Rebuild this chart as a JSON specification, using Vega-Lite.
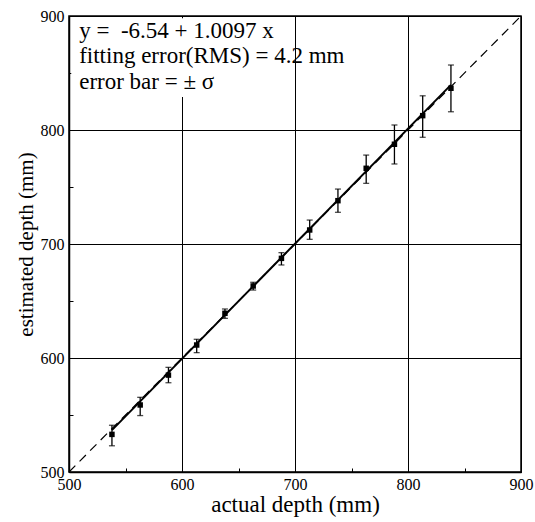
{
  "$schema": "https://vega.github.io/schema/vega-lite/v6.json",
  "width": 452,
  "height": 456,
  "autosize": {"type": "none"},
  "padding": {"left": 69, "top": 16, "right": 14, "bottom": 50},
  "background": "white",
  "config": {
    "font": "Liberation Serif",
    "view": {"stroke": "black", "strokeWidth": 1.5},
    "axis": {
      "labelFont": "Liberation Serif",
      "titleFont": "Liberation Serif",
      "labelFontSize": 16,
      "titleFontSize": 21,
      "titleFontWeight": "normal",
      "labelColor": "black",
      "titleColor": "black",
      "domainColor": "black",
      "domainWidth": 1.5,
      "tickColor": "black",
      "gridColor": "black",
      "gridWidth": 1,
      "labelFlush": false,
      "labelOverlap": false
    }
  },
  "datasets": {
    "points": [
      {"actual": 538, "estimated": 533.0, "low": 523.0, "high": 541.0},
      {"actual": 563, "estimated": 558.8, "low": 549.5, "high": 565.5},
      {"actual": 588, "estimated": 585.0, "low": 578.3, "high": 591.8},
      {"actual": 613, "estimated": 611.4, "low": 604.7, "high": 616.4},
      {"actual": 638, "estimated": 639.2, "low": 634.8, "high": 643.0},
      {"actual": 663, "estimated": 663.2, "low": 659.6, "high": 666.4},
      {"actual": 688, "estimated": 687.4, "low": 681.6, "high": 692.4},
      {"actual": 713, "estimated": 712.3, "low": 704.1, "high": 721.0},
      {"actual": 738, "estimated": 738.0, "low": 727.8, "high": 748.2},
      {"actual": 763, "estimated": 766.4, "low": 753.2, "high": 778.0},
      {"actual": 788, "estimated": 787.5, "low": 770.2, "high": 804.4},
      {"actual": 813, "estimated": 812.6, "low": 793.6, "high": 830.0},
      {"actual": 838, "estimated": 836.6, "low": 816.0, "high": 857.0}
    ],
    "lines": [
      {"series": "identity", "actual": 500, "estimated": 500},
      {"series": "identity", "actual": 900, "estimated": 900},
      {"series": "fit", "actual": 538, "estimated": 536.7},
      {"series": "fit", "actual": 838, "estimated": 839.6}
    ],
    "box": [
      {"x1": 502, "x2": 666, "y1": 829, "y2": 898}
    ],
    "notes": [
      {"actual": 509, "estimated": 880.5, "text": "y = \u00a0-6.54 + 1.0097 x"},
      {"actual": 509, "estimated": 858.5, "text": "fitting error(RMS) = 4.2 mm"},
      {"actual": 509, "estimated": 836, "text": "error bar = ± σ"}
    ]
  },
  "encoding": {
    "x": {
      "field": "actual",
      "type": "quantitative",
      "scale": {"domain": [500, 900], "nice": false, "zero": false},
      "axis": {
        "title": "actual depth (mm)",
        "titleFontSize": 23,
        "values": [500, 550, 600, 650, 700, 750, 800, 850, 900],
        "labelExpr": "datum.value % 100 === 0 ? datum.label : ''",
        "gridOpacity": {"condition": {"test": "datum.value % 100 === 0", "value": 1}, "value": 0},
        "tickSize": -4,
        "labelPadding": 8,
        "titlePadding": 1
      }
    },
    "y": {
      "field": "estimated",
      "type": "quantitative",
      "scale": {"domain": [500, 900], "nice": false, "zero": false},
      "axis": {
        "title": "estimated depth (mm)",
        "values": [500, 550, 600, 650, 700, 750, 800, 850, 900],
        "labelExpr": "datum.value % 100 === 0 ? datum.label : ''",
        "gridOpacity": {"condition": {"test": "datum.value % 100 === 0", "value": 1}, "value": 0},
        "tickSize": -4,
        "labelPadding": 9,
        "titlePadding": 4
      }
    }
  },
  "layer": [
    {
      "data": {"name": "box"},
      "mark": {"type": "rect", "fill": "white"},
      "encoding": {
        "x": {"field": "x1", "type": "quantitative"},
        "x2": {"field": "x2"},
        "y": {"field": "y1", "type": "quantitative"},
        "y2": {"field": "y2"}
      }
    },
    {
      "data": {"name": "lines"},
      "transform": [{"filter": "datum.series === 'identity'"}],
      "mark": {"type": "line", "color": "black", "strokeWidth": 1.2, "strokeDash": [9, 6]},
      "encoding": {}
    },
    {
      "data": {"name": "lines"},
      "transform": [{"filter": "datum.series === 'fit'"}],
      "mark": {"type": "line", "color": "black", "strokeWidth": 2},
      "encoding": {}
    },
    {
      "data": {"name": "points"},
      "mark": {"type": "errorbar", "color": "black", "thickness": 1.3, "ticks": {"size": 6, "thickness": 1.3, "color": "black"}},
      "encoding": {
        "y": {"field": "low", "type": "quantitative"},
        "y2": {"field": "high"}
      }
    },
    {
      "data": {"name": "points"},
      "mark": {"type": "point", "shape": "square", "filled": true, "color": "black", "opacity": 1, "size": 30},
      "encoding": {}
    },
    {
      "data": {"name": "notes"},
      "mark": {"type": "text", "align": "left", "baseline": "alphabetic", "font": "Liberation Serif", "fontSize": 23, "color": "black"},
      "encoding": {"text": {"field": "text"}}
    }
  ]
}
